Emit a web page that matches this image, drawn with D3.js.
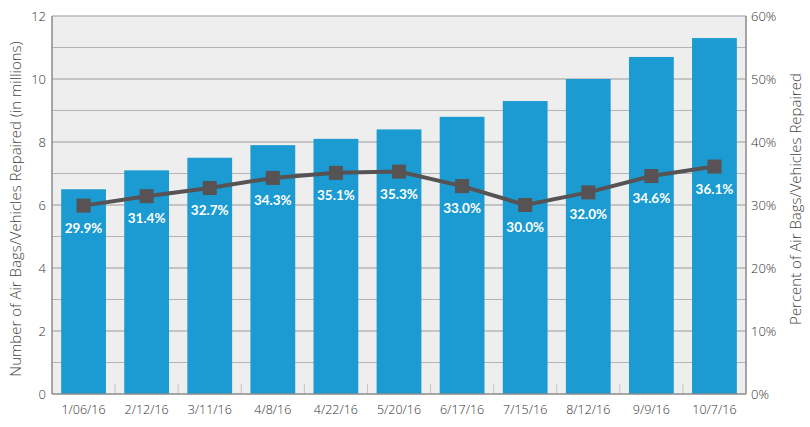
<!DOCTYPE html>
<html><head><meta charset="utf-8">
<script src="https://cdn.jsdelivr.net/npm/d3@7"></script>
<style>body{margin:0;background:#fff}svg{display:block}</style>
</head><body>
<svg id="c" width="810" height="427"></svg>
<script>
const categories = ["1/06/16","2/12/16","3/11/16","4/8/16","4/22/16","5/20/16","6/17/16","7/15/16","8/12/16","9/9/16","10/7/16"];
const repaired = [6.5,7.1,7.5,7.9,8.1,8.4,8.8,9.3,10.0,10.7,11.3];
const percent = [29.9,31.4,32.7,34.3,35.1,35.3,33.0,30.0,32.0,34.6,36.1];
const leftTicks = [0,2,4,6,8,10,12];
const rightTicks = [0,10,20,30,40,50,60];
const leftTitle = "Number of Air Bags/Vehicles Repaired (in millions)";
const rightTitle = "Percent of Air Bags/Vehicles Repaired";

const svg = d3.select("#c");
const L=52,R=746,T=16,B=394;
const x = d3.scaleBand().domain(categories).range([L,R]).paddingInner(0.29).paddingOuter(0.145);
const y = d3.scaleLinear().domain([0,12]).range([B,T]);
const y2 = d3.scaleLinear().domain([0,60]).range([B,T]);
const font = "Lato, 'Open Sans', sans-serif";
const light = "'Open Sans', Lato, sans-serif";

svg.append("rect").attr("x",L).attr("y",T).attr("width",R-L).attr("height",B-T).attr("fill","#eeeeee");
const g = svg.append("g");
d3.range(1,12).forEach(v=>{
  g.append("line").attr("x1",L).attr("x2",R).attr("y1",y(v)).attr("y2",y(v))
   .attr("stroke", v%2===0?"#9a9a9a":"#b4b4b4").attr("stroke-width",1.2);
});
svg.append("line").attr("x1",L).attr("x2",R).attr("y1",T).attr("y2",T).attr("stroke","#9a9a9a").attr("stroke-width",1.2);
const step = x.step();
categories.slice(1).forEach(c=>{
  const xx = x(c) - (step - x.bandwidth())/2;
  svg.append("line").attr("x1",xx).attr("x2",xx).attr("y1",B-10).attr("y2",B).attr("stroke","#c4c4c4").attr("stroke-width",1);
});
svg.append("g").selectAll("rect").data(repaired).join("rect")
  .attr("x",(d,i)=>x(categories[i])).attr("width",x.bandwidth())
  .attr("y",d=>y(d)).attr("height",d=>B-y(d)).attr("fill","#1b9bd1");
svg.append("line").attr("x1",L).attr("x2",L).attr("y1",T).attr("y2",B).attr("stroke","#8a8a8a").attr("stroke-width",1.5);
svg.append("line").attr("x1",R).attr("x2",R).attr("y1",T).attr("y2",B).attr("stroke","#8a8a8a").attr("stroke-width",1.5);
svg.append("line").attr("x1",L).attr("x2",R).attr("y1",B).attr("y2",B).attr("stroke","#8a8a8a").attr("stroke-width",1.5);

const cx = i => x(categories[i]) + x.bandwidth()/2;
svg.append("path").datum(percent)
  .attr("d", d3.line().x((d,i)=>cx(i)).y(d=>y2(d)))
  .attr("fill","none").attr("stroke","#575253").attr("stroke-width",4);
svg.append("g").selectAll("rect").data(percent).join("rect")
  .attr("x",(d,i)=>cx(i)-7).attr("y",d=>y2(d)-7).attr("width",14).attr("height",14).attr("fill","#575253");
svg.append("g").selectAll("text").data(percent).join("text")
  .attr("x",(d,i)=>cx(i)).attr("y",d=>y2(d)+27)
  .attr("text-anchor","middle").attr("fill","#fff")
  .attr("font-family",font).attr("font-weight","bold").attr("font-size",13.5)
  .text(d=>d.toFixed(1)+"%");

svg.append("g").selectAll("text").data(leftTicks).join("text")
  .attr("x",46).attr("y",d=>y(d)+5).attr("text-anchor","end")
  .attr("font-family",light).attr("font-weight",300).attr("font-size",13).attr("fill","#333").text(d=>d);
svg.append("g").selectAll("text").data(rightTicks).join("text")
  .attr("x",751).attr("y",d=>y2(d)+5).attr("text-anchor","start")
  .attr("font-family",light).attr("font-weight",300).attr("font-size",13).attr("fill","#333").text(d=>d+"%");
svg.append("g").selectAll("text").data(categories).join("text")
  .attr("x",(d)=>x(d)+x.bandwidth()/2).attr("y",414).attr("text-anchor","middle")
  .attr("font-family",light).attr("font-weight",300).attr("font-size",12.5).attr("fill","#333").text(d=>d);

svg.append("text").attr("transform",`translate(21,${(T+B)/2+4}) rotate(-90)`).attr("text-anchor","middle")
  .attr("font-family",light).attr("font-weight",300).attr("font-size",15).attr("fill","#444").text(leftTitle);
svg.append("text").attr("transform",`translate(801,${(T+B)/2-6}) rotate(-90)`).attr("text-anchor","middle")
  .attr("font-family",light).attr("font-weight",300).attr("font-size",15).attr("fill","#444").text(rightTitle);
</script>
</body></html>
